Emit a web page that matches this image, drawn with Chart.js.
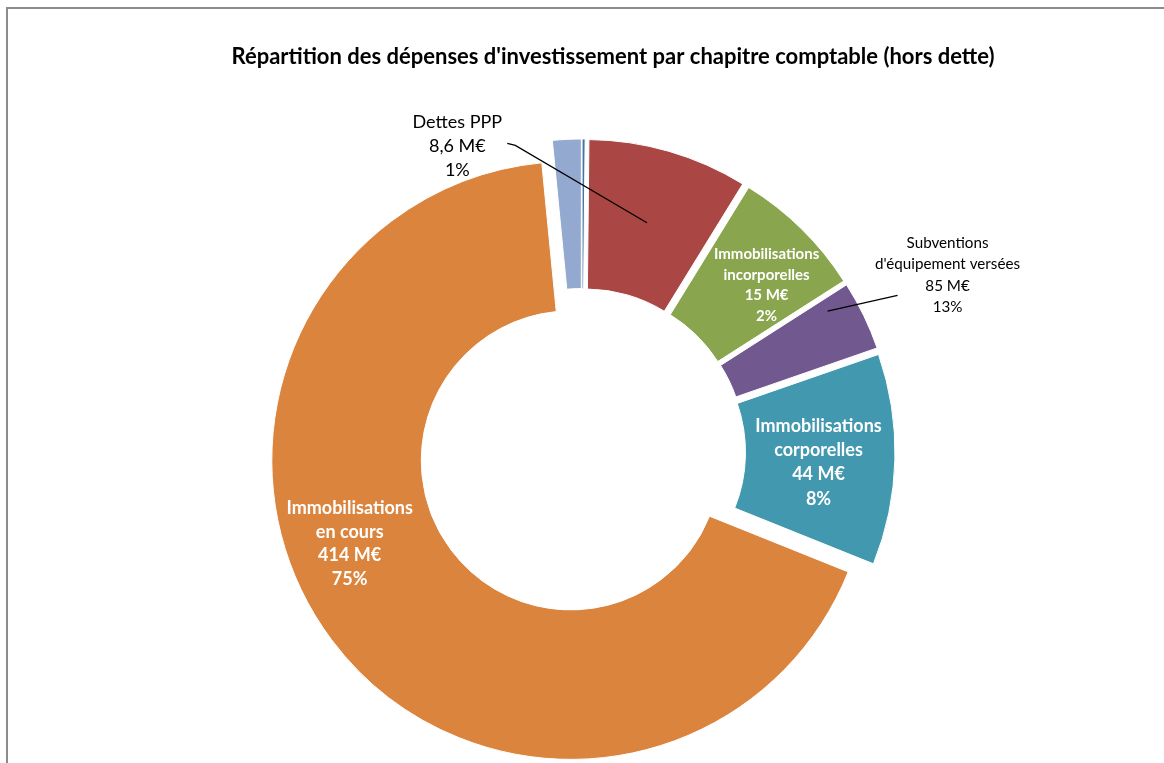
<!DOCTYPE html>
<html>
<head>
<meta charset="utf-8">
<script src="https://cdn.jsdelivr.net/npm/chart.js@4/dist/chart.umd.min.js"></script>
<style>
  html, body { margin: 0; padding: 0; background: #fff; }
  #cadre { position: relative; width: 1164px; height: 763px; overflow: hidden; }
  #bord { position: absolute; left: 6px; top: 7px; right: -10px; bottom: -10px;
          border-top: 2px solid #8c8c8c; border-left: 2px solid #8c8c8c; }
  canvas { position: absolute; left: 0; top: 0; }
</style>
</head>
<body>
<div id="cadre">
  <div id="bord"></div>
  <canvas id="chartDepenses" width="1164" height="763"></canvas>
</div>
<script>
const titre = "Répartition des dépenses d'investissement par chapitre comptable (hors dette)";
// parts (M€), dans l'ordre de tracé depuis midi
const categories = ['Autres', 'Dettes PPP', 'Immobilisations incorporelles', "Subventions d'équipement versées",
                    'Immobilisations corporelles', 'Immobilisations en cours', 'Autres dépenses'];
const montants = [1, 53, 44, 23, 70, 414, 9.5];
const couleurs = ['#4572A7', '#AA4643', '#89A54E', '#71588F', '#4198AF', '#DB843D', '#93A9CF'];
// étiquettes affichées (telles qu'elles apparaissent)
const libelles = [[], ['Dettes PPP'], ['Immobilisations', 'incorporelles'], ['Subventions', "d'équipement versées"],
                  ['Immobilisations', 'corporelles'], ['Immobilisations', 'en cours'], []];
const libMontants = ['', '8,6 M€', '15 M€', '85 M€', '44 M€', '414 M€', ''];
const libPourcents = ['', '1%', '2%', '13%', '8%', '75%', ''];

const eclatement = 14; // décalage des parts, en px
const police = 'Lato, "Liberation Sans", sans-serif';

// placement des étiquettes : ancre = [fraction d'angle, fraction de rayon] dans la part
const placements = {
  1: { dehors: true, angle: 337.8, dist: 330, depart: [50, -3], coude: [58, -1], ancre: [0.49, 0.5],
       taille: 18, gras: false, interligne: 24, couleur: '#000' },
  2: { ancre: [0.64, 0.57], taille: 15, gras: true, interligne: 20.5, couleur: '#fff' },
  3: { dehors: true, angle: 64.2, dist: 406, depart: [-50, 20], ancre: [0.19, 0.8],
       taille: 15.2, gras: false, interligne: 21.5, couleur: '#000' },
  4: { ancre: [0.53, 0.49], taille: 18, gras: true, interligne: 24.3, couleur: '#fff' },
  5: { ancre: [0.567, 0.58], taille: 18, gras: true, interligne: 23.5, couleur: '#fff' }
};

function pointDansPart(arc, fa, fr) {
  const a = arc.startAngle + fa * (arc.endAngle - arc.startAngle);
  const r = arc.innerRadius + fr * (arc.outerRadius - arc.innerRadius);
  return { x: arc.x + Math.cos(a) * r, y: arc.y + Math.sin(a) * r };
}

const pluginEclate = {
  id: 'eclate',
  afterDatasetsUpdate(chart) {
    chart.getDatasetMeta(0).data.forEach(arc => {
      const mid = (arc.startAngle + arc.endAngle) / 2;
      arc.x += Math.cos(mid) * eclatement;
      arc.y += Math.sin(mid) * eclatement;
    });
  }
};

const pluginTextes = {
  id: 'textes',
  afterDatasetsDraw(chart) {
    const ctx = chart.ctx;
    const ca = chart.chartArea;
    const cx = (ca.left + ca.right) / 2;
    const cy = (ca.top + ca.bottom) / 2;
    ctx.save();
    ctx.textAlign = 'center';
    ctx.textBaseline = 'middle';

    // titre
    ctx.fillStyle = '#000';
    ctx.font = 'bold 22px ' + police;
    ctx.fillText(titre, 613, 57);

    chart.getDatasetMeta(0).data.forEach((arc, i) => {
      const p = placements[i];
      if (!p) return;
      const lignes = [...libelles[i], libMontants[i], libPourcents[i]];
      const ancre = pointDansPart(arc, p.ancre[0], p.ancre[1]);
      let tx = ancre.x, ty = ancre.y;
      if (p.dehors) {
        const t = p.angle * Math.PI / 180;
        tx = cx + Math.sin(t) * p.dist;
        ty = cy - Math.cos(t) * p.dist;
        ctx.strokeStyle = '#000';
        ctx.lineWidth = 1.3;
        ctx.beginPath();
        ctx.moveTo(tx + p.depart[0], ty + p.depart[1]);
        if (p.coude) ctx.lineTo(tx + p.coude[0], ty + p.coude[1]);
        ctx.lineTo(ancre.x, ancre.y);
        ctx.stroke();
      }
      ctx.fillStyle = p.couleur;
      ctx.font = (p.gras ? 'bold ' : '') + p.taille + 'px ' + police;
      lignes.forEach((l, k) => {
        ctx.fillText(l, tx, ty + (k - (lignes.length - 1) / 2) * p.interligne);
      });
    });
    ctx.restore();
  }
};

new Chart(document.getElementById('chartDepenses'), {
  type: 'doughnut',
  data: {
    labels: categories,
    datasets: [{
      data: montants,
      backgroundColor: couleurs,
      borderColor: '#fff',
      borderWidth: 1,
      clip: false
    }]
  },
  options: {
    responsive: false,
    animation: false,
    events: [],
    radius: 299,
    cutout: '50%',
    layout: { padding: { top: 141, bottom: 0, left: 0, right: 0 } },
    plugins: {
      legend: { display: false },
      title: { display: false },
      tooltip: { enabled: false }
    }
  },
  plugins: [pluginEclate, pluginTextes]
});
</script>
</body>
</html>
